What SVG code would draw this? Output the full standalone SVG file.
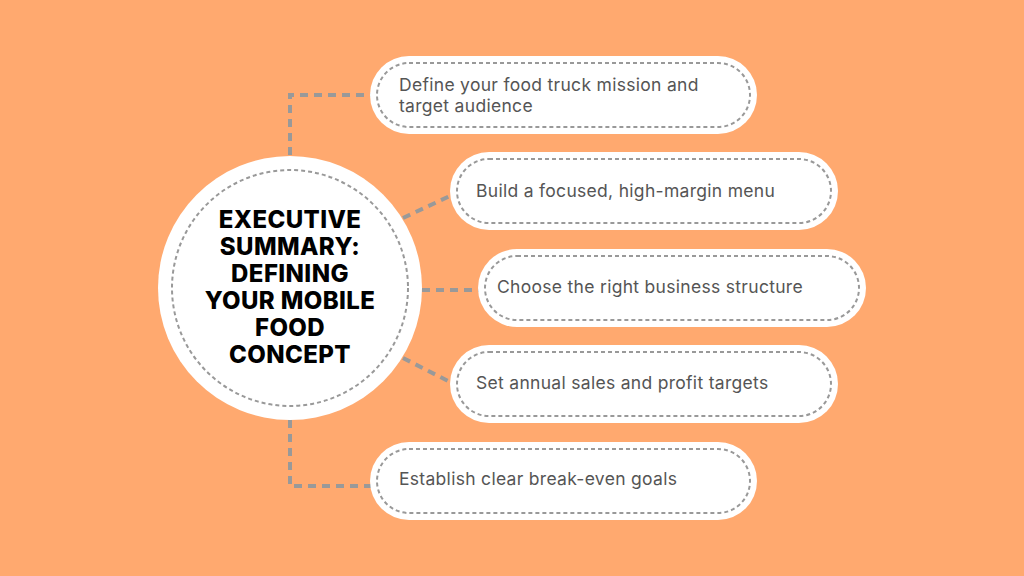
<svg xmlns="http://www.w3.org/2000/svg" width="1024" height="576" viewBox="0 0 1024 576">
<style>
.box{fill:#fff}
.in{fill:none;stroke:#999;stroke-width:2;stroke-dasharray:4 3}
.t{font-family:Inter,"Open Sans",sans-serif;font-size:17.5px;letter-spacing:0.3px;fill:#555}
.h{font-family:Inter,"Open Sans",sans-serif;font-size:24px;letter-spacing:0.4px;font-weight:800;fill:#000;text-anchor:middle}
.c{fill:none;stroke:#999;stroke-width:4;stroke-dasharray:8 6}
</style>
<rect width="1024" height="576" fill="#FFA96F"/>
<g id="connectors">
<path class="c" d="M290 155V95H372"/>
<path class="c" d="M403 218L452 195"/>
<path class="c" d="M422 290H480"/>
<path class="c" d="M403 358L452 383"/>
<path class="c" d="M290 420V486H372"/>
</g>
<g id="center">
<circle class="box" cx="290" cy="288" r="132"/>
<circle class="in" cx="290" cy="288" r="118"/>
<text class="h" x="290" y="228">EXECUTIVE</text>
<text class="h" x="290" y="255">SUMMARY:</text>
<text class="h" x="290" y="282">DEFINING</text>
<text class="h" x="290" y="309">YOUR MOBILE</text>
<text class="h" x="290" y="336">FOOD</text>
<text class="h" x="290" y="363">CONCEPT</text>
</g>
<g id="n1"><rect class="box" x="370" y="56" width="387" height="78" rx="39"/><rect class="in" x="377" y="63" width="373" height="64" rx="32"/>
<text class="t" x="399" y="91">Define your food truck mission and</text><text class="t" x="399" y="112">target audience</text></g>
<g id="n2"><rect class="box" x="450" y="152" width="388" height="78" rx="39"/><rect class="in" x="457" y="159" width="374" height="64" rx="32"/>
<text class="t" x="476" y="197">Build a focused, high-margin menu</text></g>
<g id="n3"><rect class="box" x="478" y="249" width="388" height="78" rx="39"/><rect class="in" x="485" y="256" width="374" height="64" rx="32"/>
<text class="t" x="497" y="293">Choose the right business structure</text></g>
<g id="n4"><rect class="box" x="450" y="345" width="388" height="78" rx="39"/><rect class="in" x="457" y="352" width="374" height="64" rx="32"/>
<text class="t" x="476" y="389">Set annual sales and profit targets</text></g>
<g id="n5"><rect class="box" x="370" y="442" width="387" height="78" rx="39"/><rect class="in" x="377" y="449" width="373" height="64" rx="32"/>
<text class="t" x="399" y="485">Establish clear break-even goals</text></g>
</svg>
